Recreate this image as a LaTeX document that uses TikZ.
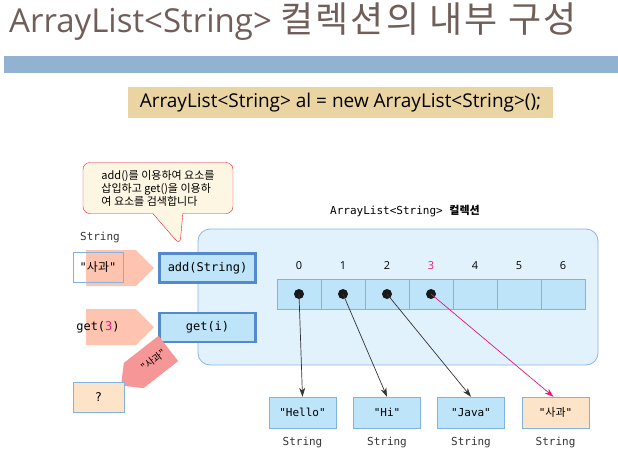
\documentclass[tikz,border=0pt]{standalone}
\usepackage{fontspec}
\setmainfont{Open Sans}
\setmonofont{DejaVu Sans Mono}
\newfontfamily\krfont{Noto Sans CJK KR}
\usetikzlibrary{arrows.meta,shapes.arrows,shapes.callouts}
\definecolor{titlegray}{RGB}{112,94,88}
\definecolor{barblue}{RGB}{146,178,210}
\definecolor{codetan}{RGB}{234,212,162}
\definecolor{collfill}{RGB}{225,242,252}
\definecolor{collline}{RGB}{140,182,228}
\definecolor{cellfill}{RGB}{190,228,250}
\definecolor{cellline}{RGB}{130,178,226}
\definecolor{methline}{RGB}{86,136,204}
\definecolor{peach}{RGB}{253,228,200}
\definecolor{salmon}{RGB}{255,196,176}
\definecolor{salmondark}{RGB}{246,150,150}
\definecolor{notefill}{RGB}{253,246,226}
\definecolor{notered}{RGB}{230,30,40}
\definecolor{hotpink}{RGB}{232,20,130}
\tikzset{
  cellbox/.style={draw=cellline, fill=cellfill, minimum width=44pt, minimum height=30pt, inner sep=0pt},
  strbox/.style={draw=cellline, fill=cellfill, minimum width=67pt, minimum height=31pt, inner sep=0pt, font=\ttfamily\fontsize{11}{13}\selectfont},
  methbox/.style={draw=methline, line width=2.2pt, fill=cellfill, minimum width=96pt, minimum height=29pt, inner sep=0pt, font=\ttfamily\fontsize{12}{14}\selectfont},
  typelabel/.style={font=\ttfamily\fontsize{11}{13}\selectfont, text=black!80},
  inarrow/.style={single arrow, fill=salmon, minimum height=68pt, minimum width=36pt, single arrow head extend=0pt, single arrow tip angle=90, inner sep=0pt},
  ptr/.style={-{Stealth[length=9pt,width=6pt]}, black!80, line width=0.7pt},
  dot/.style={circle, fill=black!90, inner sep=0pt, minimum size=10pt}
}
\begin{document}
\begin{tikzpicture}[x=1pt, y=-1pt]
\useasboundingbox (0,0) rectangle (618,474);
% title and bar
\node[anchor=base west, inner sep=0pt, text=titlegray, font=\fontsize{33}{38}\selectfont] (title) at (9,32) {ArrayList<String> {\krfont\fontsize{36}{40}\selectfont\addfontfeature{LetterSpace=6} 컬렉션의 내부 구성}};
\fill[barblue] (4,56) rectangle (618,73);
\node[fill=codetan, minimum width=425pt, minimum height=31pt, inner sep=0pt, font=\fontsize{19}{21}\selectfont] (code) at (340.5,102.5) {ArrayList<String> al = new ArrayList<String>();};
% collection
\node[draw=collline, fill=collfill, rounded corners=12pt, minimum width=400pt, minimum height=136pt, line width=0.8pt] (coll) at (398,297) {};
\node[font=\ttfamily\fontsize{11}{13}\selectfont] (colllabel) at (405,211) {ArrayList<String> {\krfont\bfseries 컬렉션}};
\foreach \i in {0,...,6} {
  \node[cellbox] (cell\i) at (299+44*\i,294) {};
  \node[font=\fontsize{11}{13}\selectfont] (idx\i) at (299+44*\i,266) {\i};
}
\node[font=\fontsize{11}{13}\selectfont, text=hotpink, fill=collfill, inner sep=1pt] at (idx3) {3};
\foreach \i in {0,...,3}
  \node[dot] (dot\i) at (cell\i) {};
% method boxes
\node[methbox] (add) at (207.5,268) {add(String)};
\node[methbox] (get) at (207.5,327.5) {get(i)};
% strings
\node[strbox] (hello) at (302.5,412.5) {"Hello"};
\node[strbox] (hi) at (387,412.5) {"Hi"};
\node[strbox] (java) at (471,412.5) {"Java"};
\node[strbox, fill=peach] (apple) at (555.5,412.5) {"{\krfont 사과}"};
\foreach \s in {hello,hi,java,apple}
  \node[typelabel, below=5pt] at (\s.south) {String};
\draw[ptr] (dot0.center) -- (hello.north);
\draw[ptr] (dot1.center) -- (hi.north);
\draw[ptr] (dot2.center) -- (java.north);
\draw[ptr, hotpink] (dot3.center) -- ([xshift=-2pt]apple.north);
% input side
\node[typelabel] (strtype) at (100,237) {String};
\node[inarrow] (addarrow) at (111,268) {};
\node[draw=cellline, minimum width=50pt, minimum height=30pt, inner sep=0pt, font=\ttfamily\fontsize{12}{14}\selectfont] (inbox) at (98,267) {"{\krfont 사과}"};
\node[inarrow] (getarrow) at (111,327) {};
\node[font=\ttfamily\fontsize{12}{14}\selectfont, inner sep=0pt] (getcall) at (98,327) {get(\textcolor{hotpink}{3})};
\node[single arrow, fill=salmondark, minimum height=60pt, minimum width=32pt, single arrow head extend=0pt, single arrow tip angle=90, inner sep=0pt, shape border rotate=180, rotate=38, text=black, font=\krfont\fontsize{10}{12}\selectfont] (outarrow) at (151,362) {\hspace{6pt}"사과"};
\node[draw=cellline, fill=peach, minimum width=51pt, minimum height=30pt, inner sep=0pt, font=\ttfamily\fontsize{12}{14}\selectfont] (result) at (98.5,397) {?};
% note
\node[rectangle callout, draw=notered, fill=notefill, rounded corners=7pt, minimum width=150pt, minimum height=51pt, callout absolute pointer={(180,245)}, callout pointer width=30pt, align=left, font=\krfont\fontsize{11}{13}\selectfont] (note) at (158,188) {add()를 이용하여 요소를\\삽입하고 get()을 이용하\\여 요소를 검색합니다};
\end{tikzpicture}
\end{document}
